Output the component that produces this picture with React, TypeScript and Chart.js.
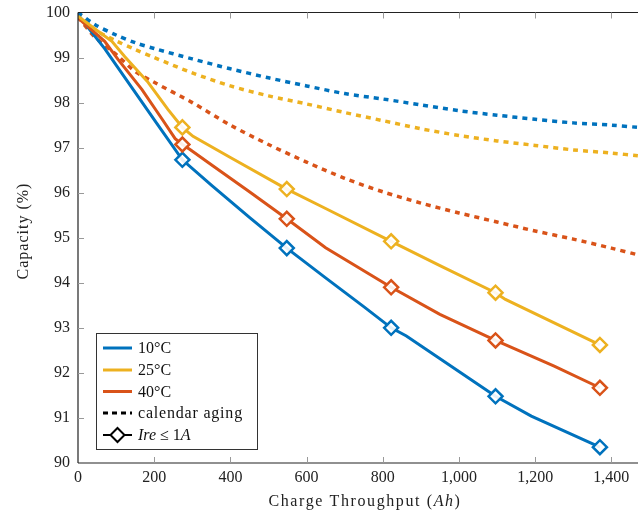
import { useEffect, useRef } from 'react';
import { Chart, registerables } from 'chart.js';
Chart.register(...registerables);

// ---- data ----
const markerX = [274, 548, 822, 1096, 1370];

const x10 = [0, 70, 140, 210, 274, 350, 450, 548, 650, 750, 822, 862, 998, 1096, 1190, 1370];
const y10 = [99.95, 99.2, 98.35, 97.5, 96.73, 96.17, 95.45, 94.77, 94.11, 93.47, 93.0, 92.82, 92.04, 91.48, 91.04, 90.35];

const x25 = [0, 50, 89, 123, 184, 236, 274, 302, 400, 548, 650, 822, 950, 1096, 1122, 1370];
const y25 = [99.92, 99.6, 99.36, 99.02, 98.45, 97.85, 97.45, 97.25, 96.78, 96.08, 95.65, 94.92, 94.38, 93.78, 93.63, 92.62];

const x40 = [0, 70, 105, 168, 221, 255, 274, 294, 350, 450, 548, 650, 822, 950, 1096, 1250, 1370];
const y40 = [99.88, 99.36, 98.96, 98.29, 97.63, 97.2, 97.07, 96.96, 96.62, 96.02, 95.42, 94.78, 93.9, 93.3, 92.72, 92.15, 91.67];

const xCal = [0, 45, 100, 150, 200, 300, 400, 500, 600, 700, 800, 900, 1000, 1100, 1200, 1300, 1400, 1470];
const yCal10 = [100, 99.73, 99.5, 99.33, 99.2, 98.97, 98.75, 98.55, 98.37, 98.2, 98.08, 97.95, 97.82, 97.72, 97.63, 97.55, 97.5, 97.45];
const yCal25 = [100, 99.62, 99.37, 99.18, 99.0, 98.66, 98.37, 98.15, 97.97, 97.78, 97.6, 97.42, 97.27, 97.15, 97.05, 96.95, 96.88, 96.82];
const yCal40 = [99.9, 99.45, 99.07, 98.69, 98.45, 98.0, 97.5, 97.07, 96.68, 96.32, 96.02, 95.77, 95.55, 95.35, 95.15, 94.97, 94.77, 94.62];

const xTicks = [0, 200, 400, 600, 800, 1000, 1200, 1400];
const yTicks = [90, 91, 92, 93, 94, 95, 96, 97, 98, 99, 100];

const seriesLabels = ['10°C', '25°C', '40°C'];
const BLUE = '#0072BD';
const YELLOW = '#EDB120';
const RED = '#D95319';
const FONT = '"Liberation Serif", "DejaVu Serif", serif';

const pts = (xs: number[], ys: number[]) => xs.map((x, i) => ({ x, y: ys[i] }));

const decorPlugin = {
  id: 'decor',
  afterDraw(chart: any) {
    const { ctx, chartArea } = chart;
    const xs = chart.scales.x;
    const ys = chart.scales.y;
    const L = chartArea.left, R = chartArea.right, T = chartArea.top, B = chartArea.bottom;
    ctx.save();
    // axis lines
    ctx.strokeStyle = '#222';
    ctx.lineWidth = 1.2;
    ctx.beginPath();
    ctx.moveTo(L, T); ctx.lineTo(R + 2, T);
    ctx.moveTo(L, T); ctx.lineTo(L, B);
    ctx.moveTo(L, B); ctx.lineTo(R + 2, B);
    ctx.stroke();
    // inward ticks
    ctx.strokeStyle = '#999';
    ctx.lineWidth = 1;
    ctx.beginPath();
    xTicks.forEach((v) => {
      if (v === 0) return;
      const px = Math.round(xs.getPixelForValue(v)) + 0.5;
      ctx.moveTo(px, B); ctx.lineTo(px, B - 6);
      ctx.moveTo(px, T); ctx.lineTo(px, T + 6);
    });
    yTicks.forEach((v) => {
      if (v === 90 || v === 100) return;
      const py = Math.round(ys.getPixelForValue(v)) + 0.5;
      ctx.moveTo(L, py); ctx.lineTo(L + 6, py);
    });
    ctx.stroke();

    // axis titles
    ctx.fillStyle = '#222';
    ctx.textBaseline = 'middle';
    ctx.font = `16px ${FONT}`;
    (ctx as any).letterSpacing = '1px';
    ctx.save();
    ctx.translate(24, 231);
    ctx.rotate(-Math.PI / 2);
    ctx.textAlign = 'center';
    ctx.fillText('Capacity (%)', 0, 0);
    ctx.restore();

    (ctx as any).letterSpacing = '1.6px';
    const parts: [string, boolean][] = [['Charge Throughput (', false], ['Ah', true], [')', false]];
    let total = 0;
    parts.forEach(([t, it]) => {
      ctx.font = `${it ? 'italic ' : ''}16px ${FONT}`;
      total += ctx.measureText(t).width;
    });
    let cx = 365 - total / 2;
    ctx.textAlign = 'left';
    parts.forEach(([t, it]) => {
      ctx.font = `${it ? 'italic ' : ''}16px ${FONT}`;
      ctx.fillText(t, cx, 502);
      cx += ctx.measureText(t).width;
    });
    (ctx as any).letterSpacing = '0px';

    // legend
    const bx = 96.5, by = 333.5, bw = 161, bh = 116;
    ctx.fillStyle = '#fff';
    ctx.fillRect(bx, by, bw, bh);
    ctx.strokeStyle = '#333';
    ctx.lineWidth = 1;
    ctx.strokeRect(bx, by, bw, bh);
    const rows = [348, 370, 391.5, 413, 435];
    const lx0 = 103, lx1 = 132, tx = 138;
    const cols = [BLUE, YELLOW, RED];
    ctx.textBaseline = 'middle';
    ctx.textAlign = 'left';
    ctx.font = `16px ${FONT}`;
    cols.forEach((c, i) => {
      ctx.strokeStyle = c;
      ctx.lineWidth = 3;
      ctx.setLineDash([]);
      ctx.beginPath();
      ctx.moveTo(lx0, rows[i]); ctx.lineTo(lx1, rows[i]);
      ctx.stroke();
      ctx.fillStyle = '#111';
      ctx.fillText(seriesLabels[i], tx, rows[i] + 1);
    });
    ctx.strokeStyle = '#000';
    ctx.lineWidth = 3;
    ctx.setLineDash([5, 4]);
    ctx.beginPath();
    ctx.moveTo(lx0, rows[3]); ctx.lineTo(lx1, rows[3]);
    ctx.stroke();
    ctx.setLineDash([]);
    (ctx as any).letterSpacing = '0.8px';
    ctx.fillText('calendar aging', tx, rows[3] + 1);
    (ctx as any).letterSpacing = '0px';
    // Ire row
    ctx.lineWidth = 2;
    ctx.beginPath();
    ctx.moveTo(lx0, rows[4]); ctx.lineTo(lx1, rows[4]);
    ctx.stroke();
    const dx = (lx0 + lx1) / 2, dy = rows[4], dr = 7;
    ctx.beginPath();
    ctx.moveTo(dx, dy - dr); ctx.lineTo(dx + dr, dy); ctx.lineTo(dx, dy + dr); ctx.lineTo(dx - dr, dy); ctx.closePath();
    ctx.fillStyle = '#fff';
    ctx.fill();
    ctx.stroke();
    ctx.fillStyle = '#111';
    const ire: [string, boolean][] = [['Ire', true], [' ≤ ', false], ['1', false], ['A', true]];
    let ix = tx;
    ire.forEach(([t, it]) => {
      ctx.font = `${it ? 'italic ' : ''}16px ${FONT}`;
      ctx.fillText(t, ix, rows[4] + 1);
      ix += ctx.measureText(t).width;
    });
    ctx.restore();
  },
};

export default function App() {
  const ref = useRef<HTMLCanvasElement>(null);
  useEffect(() => {
    if (!ref.current) return;
    const mk = (v: any) => (markerX.includes(v) ? 7 : 0);
    const solid = (label: string, xs: number[], ys: number[], color: string) => ({
      label,
      data: pts(xs, ys),
      borderColor: color,
      backgroundColor: '#ffffff',
      borderWidth: 3,
      pointRadius: (c: any) => mk(c.raw && c.raw.x),
      pointHoverRadius: 0,
      pointStyle: 'rectRot',
      pointBorderColor: color,
      pointBackgroundColor: 'rgba(255,255,255,0.9)',
      pointBorderWidth: 2.5,
      tension: 0,
      order: 1,
    });
    const dotted = (label: string, ys: number[], color: string) => ({
      label,
      data: pts(xCal, ys),
      borderColor: color,
      borderWidth: 3.5,
      borderDash: [5, 5],
      pointRadius: 0,
      tension: 0.3,
      order: 2,
    });
    const chart = new Chart(ref.current, {
      type: 'line',
      data: {
        datasets: [
          dotted('cal 10', yCal10, BLUE),
          dotted('cal 25', yCal25, YELLOW),
          dotted('cal 40', yCal40, RED),
          solid(seriesLabels[1], x25, y25, YELLOW),
          solid(seriesLabels[2], x40, y40, RED),
          solid(seriesLabels[0], x10, y10, BLUE),
        ] as any,
      },
      options: {
        animation: false,
        responsive: false,
        maintainAspectRatio: false,
        layout: { autoPadding: false, padding: { left: 0, right: 0, top: 12.5, bottom: 0 } },
        plugins: { legend: { display: false }, tooltip: { enabled: false } },
        scales: {
          x: {
            type: 'linear',
            min: 0,
            max: 1470,
            grid: { display: false, drawTicks: false },
            border: { display: false },
            afterFit: (s: any) => { s.height = 52; s.paddingLeft = 0; s.paddingRight = 0; },
            afterBuildTicks: (s: any) => { s.ticks = xTicks.map((v) => ({ value: v })); },
            ticks: {
              padding: 5,
              color: '#222',
              font: { family: FONT, size: 16 },
              maxRotation: 0,
              autoSkip: false,
              callback: (v: any) => Number(v).toLocaleString('en-US'),
            },
          },
          y: {
            type: 'linear',
            min: 90,
            max: 100,
            grid: { display: false, drawTicks: false },
            border: { display: false },
            afterFit: (s: any) => { s.width = 78; s.paddingTop = 0; s.paddingBottom = 0; },
            afterBuildTicks: (s: any) => { s.ticks = yTicks.map((v) => ({ value: v })); },
            ticks: {
              padding: 8,
              color: '#222',
              font: { family: FONT, size: 16 },
              autoSkip: false,
              callback: (v: any) => String(v),
            },
          },
        },
      },
      plugins: [decorPlugin],
    });
    return () => chart.destroy();
  }, []);
  return (
    <div style={{ position: 'fixed', left: 0, top: 0, width: 638, height: 515, background: '#fff' }}>
      <canvas ref={ref} width={638} height={515} style={{ width: 638, height: 515, display: 'block' }} />
    </div>
  );
}
